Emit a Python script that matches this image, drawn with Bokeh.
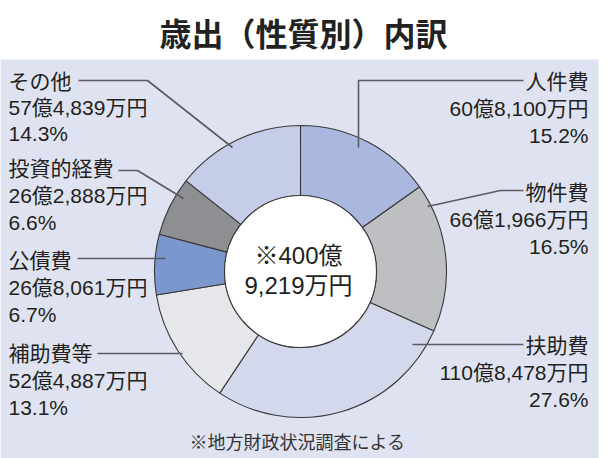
import numpy as np
from bokeh.plotting import figure
from bokeh.models import Range1d
from bokeh.embed import file_html
from bokeh.resources import INLINE
from bokeh.core.properties import value

# ---- data ----
categories = ["人件費", "物件費", "扶助費", "補助費等", "公債費", "投資的経費", "その他"]
amounts_man_yen = [608100, 661966, 1108478, 524887, 268061, 262888, 574839]
amount_labels = ["60億8,100万円", "66億1,966万円", "110億8,478万円", "52億4,887万円",
                 "26億8,061万円", "26億2,888万円", "57億4,839万円"]
percent_labels = ["15.2%", "16.5%", "27.6%", "13.1%", "6.7%", "6.6%", "14.3%"]
total_lines = ["※400億", "9,219万円"]
title_text = "歳出（性質別）内訳"
note_text = "※地方財政状況調査による"

colors = ["#aab8df", "#bebfc3", "#d3d8ec", "#e6e7ea", "#7c97cd", "#8e8f92", "#c6cde8"]

W, H = 608, 458
FONT = value("Liberation Sans, Noto Sans CJK JP")
CJK = value("Noto Sans CJK JP")
TXT = "#231f20"


def Y(v):
    return H - v


p = figure(width=W, height=H, x_range=Range1d(0, W), y_range=Range1d(0, H),
           output_backend="svg", toolbar_location=None, min_border=0)
p.axis.visible = False
p.grid.visible = False
p.outline_line_color = None
p.background_fill_color = "white"
p.border_fill_color = "white"

# panel
p.quad(left=0, right=598, bottom=0, top=Y(59), fill_color="#dfe3f1", line_color=None)

# donut
cx, cy = 300, Y(271)
R_out, R_in = 146, 76
tot = float(sum(amounts_man_yen))
cum = np.concatenate([[0.0], np.cumsum(amounts_man_yen)]) / tot
start = np.pi / 2 - 2 * np.pi * cum[:-1]
end = np.pi / 2 - 2 * np.pi * cum[1:]

p.annular_wedge(x=[cx] * len(categories), y=[cy] * len(categories),
                inner_radius=R_in, outer_radius=R_out,
                start_angle=list(start), end_angle=list(end), direction="clock",
                fill_color=colors, line_color="#3a3a3a", line_width=1.1)
p.circle(x=[cx], y=[cy], radius=R_in, fill_color="white", line_color="#3a3a3a", line_width=1.1)

# leader lines (layout positions)
lead_xs = [[523, 358, 358], [523, 500, 427], [523, 412], [97, 182],
           [77, 165], [118, 137, 183], [78, 147, 232]]
lead_ys_px = [[80, 80, 147], [190, 190, 206], [344, 344], [353, 353],
              [258, 258], [170, 170, 198], [80, 80, 147]]
p.multi_line(xs=lead_xs, ys=[[Y(v) for v in ys] for ys in lead_ys_px],
             line_color="#5a5a60", line_width=1.6)

# labels: (x, y of first line, align)
label_pos = [(588, 81, "right"), (588, 192, "right"), (588, 345, "right"),
             (8, 353, "left"), (8, 260, "left"), (8, 168, "left"), (8, 81, "left")]
gap = [27, 27, 27, 27, 27, 27, 26]
for i, cat in enumerate(categories):
    x0, y0, al = label_pos[i]
    lines = [cat, amount_labels[i], percent_labels[i]]
    ys = [Y(y0 + k * gap[i]) for k in range(3)]
    p.text(x=[x0] * 3, y=ys, text=lines, text_align=al, text_baseline="middle",
           text_font=FONT, text_font_size="21px", text_color=TXT)

# centre total
p.text(x=[298, 298], y=[Y(255), Y(285)], text=total_lines, text_align="center",
       text_baseline="middle", text_font=FONT, text_font_size="24px", text_color=TXT)

# title
p.text(x=[303], y=[Y(31)], text=[title_text], text_align="center", text_baseline="middle",
       text_font=CJK, text_font_size="32px", text_font_style="bold", text_color="#222222")

# note
p.text(x=[297], y=[Y(440)], text=[note_text], text_align="center", text_baseline="middle",
       text_font=CJK, text_font_size="18px", text_color="#333333")

open("out.html", "w").write(file_html(p, INLINE))
